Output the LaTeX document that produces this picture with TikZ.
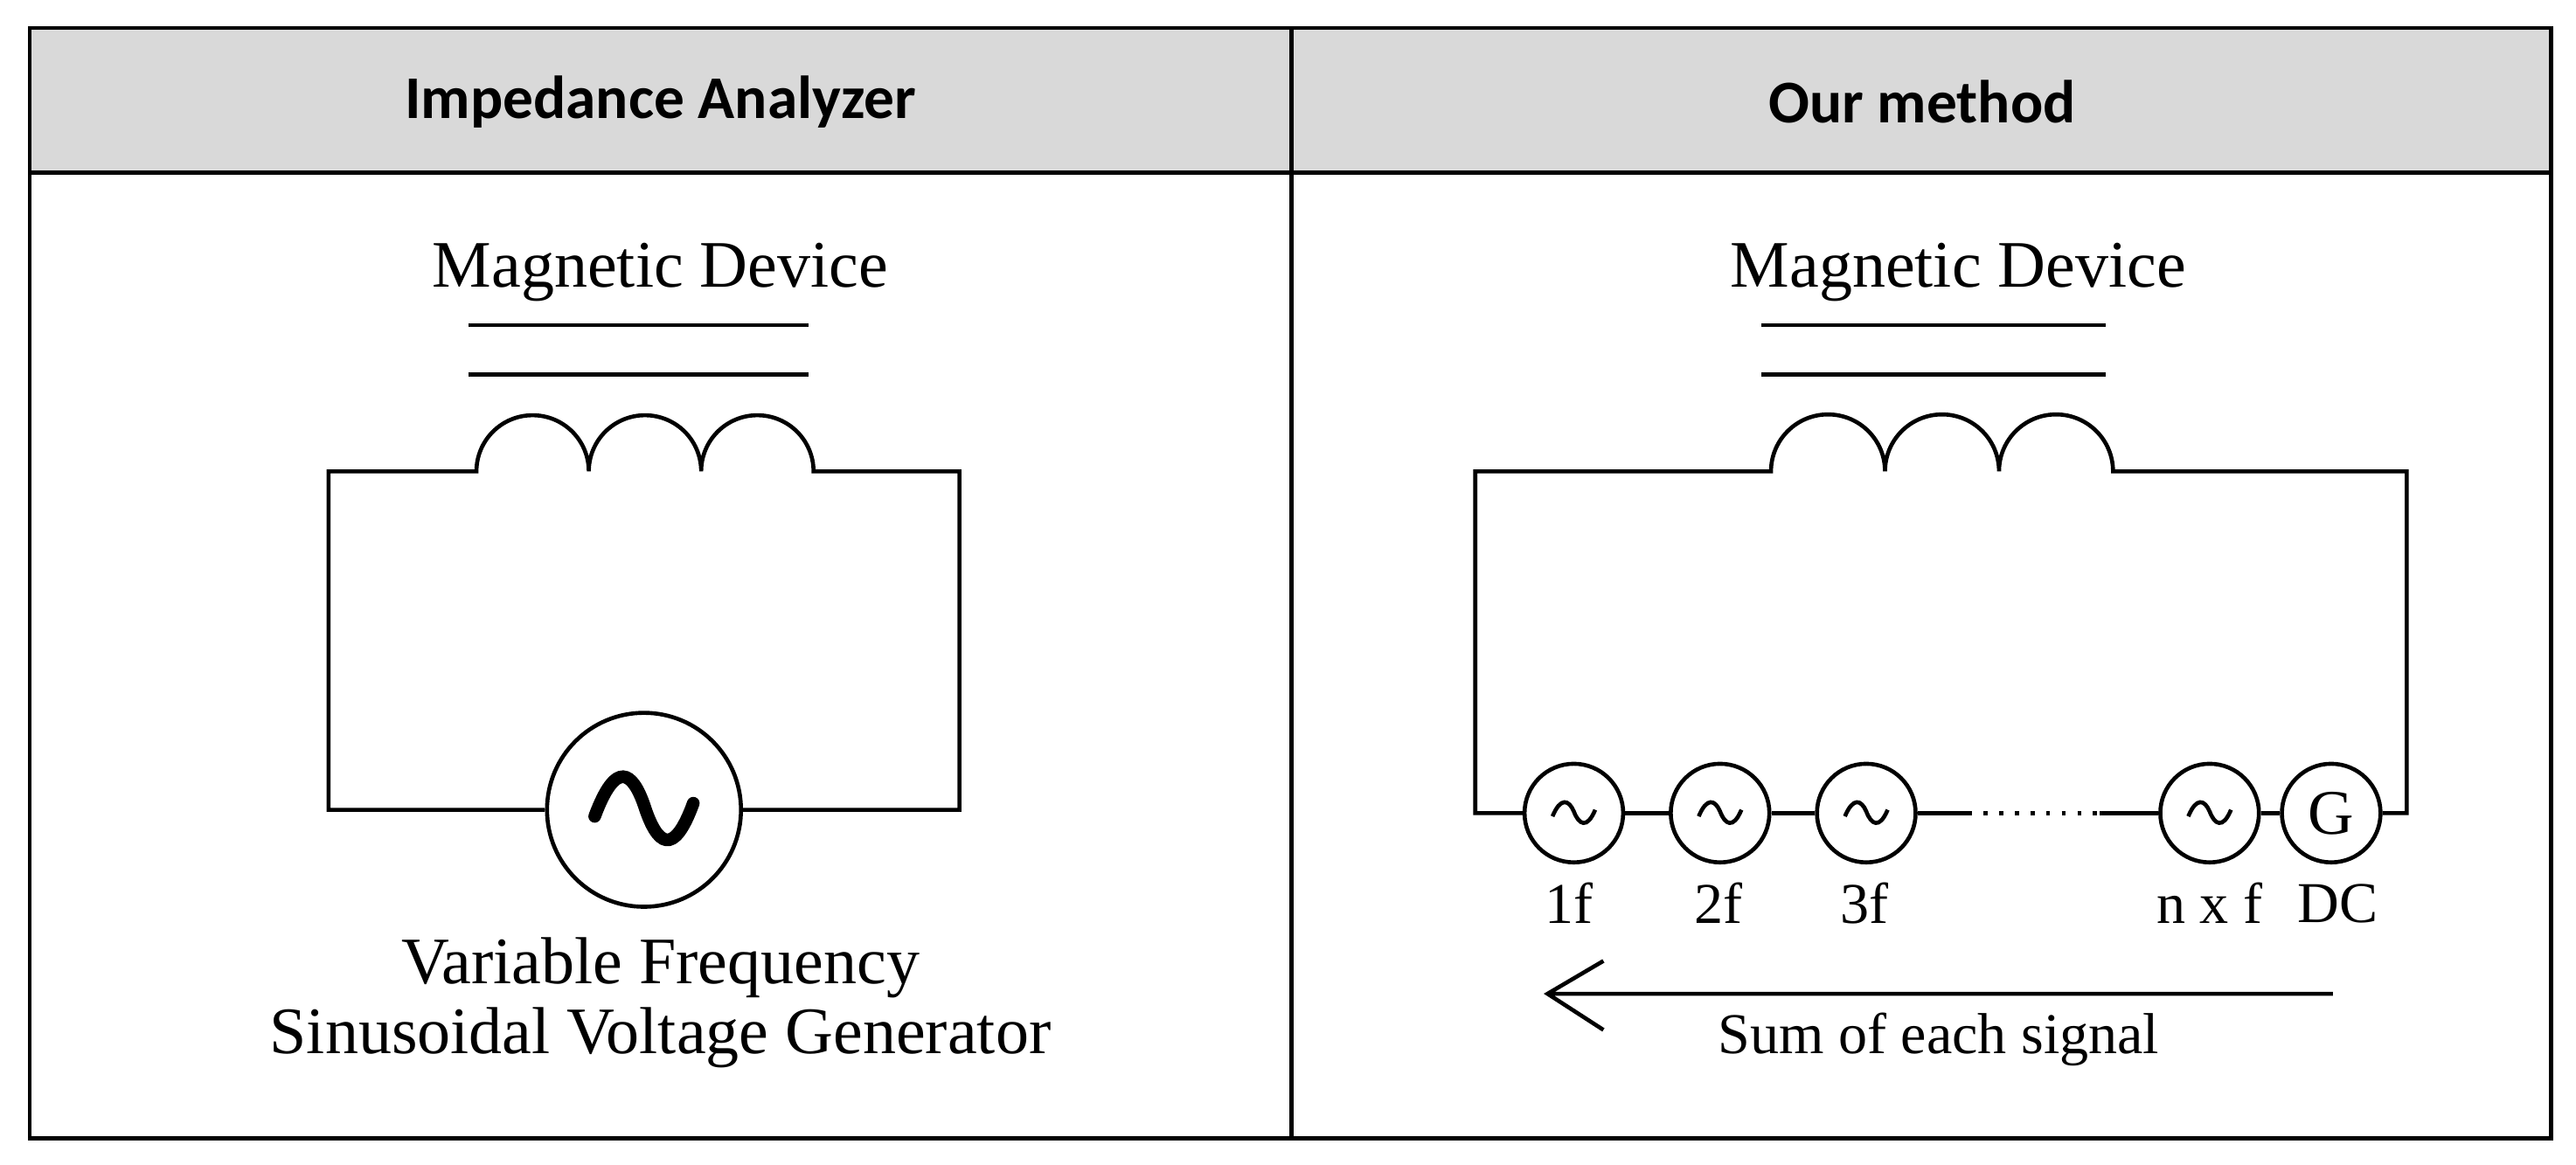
\documentclass[tikz,border=0pt]{standalone}
\usepackage{fontspec}
\setmainfont{Liberation Serif}
\newfontfamily\hdr{Carlito}
\usetikzlibrary{arrows.meta}
\begin{document}
\begin{tikzpicture}[x=0.01cm,y=-0.01cm,line width=0.7pt,
  hd/.style={font=\hdr\bfseries\fontsize{10.5}{12}\selectfont},
  lb/.style={font=\fontsize{11.5}{13}\selectfont},
  sm/.style={font=\fontsize{10}{12}\selectfont}]
\useasboundingbox (0,0) rectangle (1568,709);
\fill[gray!30] (18,17) rectangle (1553,105);
\draw (18,17) rectangle (1553,693);
\draw (18,105) -- (1553,105);
\draw (786,17) -- (786,693);
\node[hd] (h1) at (402,62) {Impedance Analyzer};
\node[hd] (h2) at (1170,62) {Our method};
% left
\node[lb] (m1) at (402,166) {Magnetic Device};
\draw (285,198) -- (492,198) (285,228) -- (492,228);
\node[circle,draw,minimum size=1.18cm,inner sep=0pt] (g) at (392,493) {};
\draw (g.west) -- (200,493) -- (200,287) -- (290,287)
  arc[start angle=180,end angle=360,radius=34.2] arc[start angle=180,end angle=360,radius=34.2] arc[start angle=180,end angle=360,radius=34.2]
  -- (584,287) -- (584,493) -- (g.east);
\draw[line width=2.2pt,line cap=round] (362,497) .. controls (375,462) and (385,470) .. (392,490) .. controls (400,515) and (410,522) .. (422,489);
\node[lb] (t1) at (402,589) {Variable Frequency};
\node[lb] (t2) at (402,632) {Sinusoidal Voltage Generator};
% right
\node[lb] (m2) at (1192,166) {Magnetic Device};
\draw (1072,198) -- (1282,198) (1072,228) -- (1282,228);
\foreach \n/\x in {s1/958,s2/1047,s3/1136,sn/1345}{
  \node[circle,draw,minimum size=0.6cm,inner sep=0pt] (\n) at (\x,495) {};
  \draw (\x-13,497) .. controls (\x-8,485) and (\x-3,487) .. (\x,494) .. controls (\x+3,502) and (\x+8,505) .. (\x+13,493);
}
\node[circle,draw,minimum size=0.6cm,inner sep=0pt,font=\fontsize{11}{13}\selectfont] (G) at (1419,495) {G};
\draw (s1.west) -- (898,495) -- (898,287) -- (1078,287)
  arc[start angle=180,end angle=360,radius=34.7] arc[start angle=180,end angle=360,radius=34.7] arc[start angle=180,end angle=360,radius=34.7]
  -- (1465,287) -- (1465,495) -- (G.east);
\draw (s1.east) -- (s2.west) (s2.east) -- (s3.west) (sn.east) -- (G.west);
\coordinate (d1) at (1198,495); \coordinate (d2) at (1278,495);
\draw (s3.east) -- (d1);
\draw[dotted] (d1) -- (d2);
\draw (d2) -- (sn.west);
\node[sm] at (955,550) {1f};
\node[sm] at (1046,550) {2f};
\node[sm] at (1135,550) {3f};
\node[sm] at (1345,550) {n x f};
\node[sm] at (1423,550) {DC};
\coordinate (a1) at (1420,605); \coordinate (a2) at (942,605);
\draw (a1) -- (a2) (976,585) -- (a2) -- (976,627);
\node[sm] at (1180,633) {Sum of each signal};
\end{tikzpicture}
\end{document}
